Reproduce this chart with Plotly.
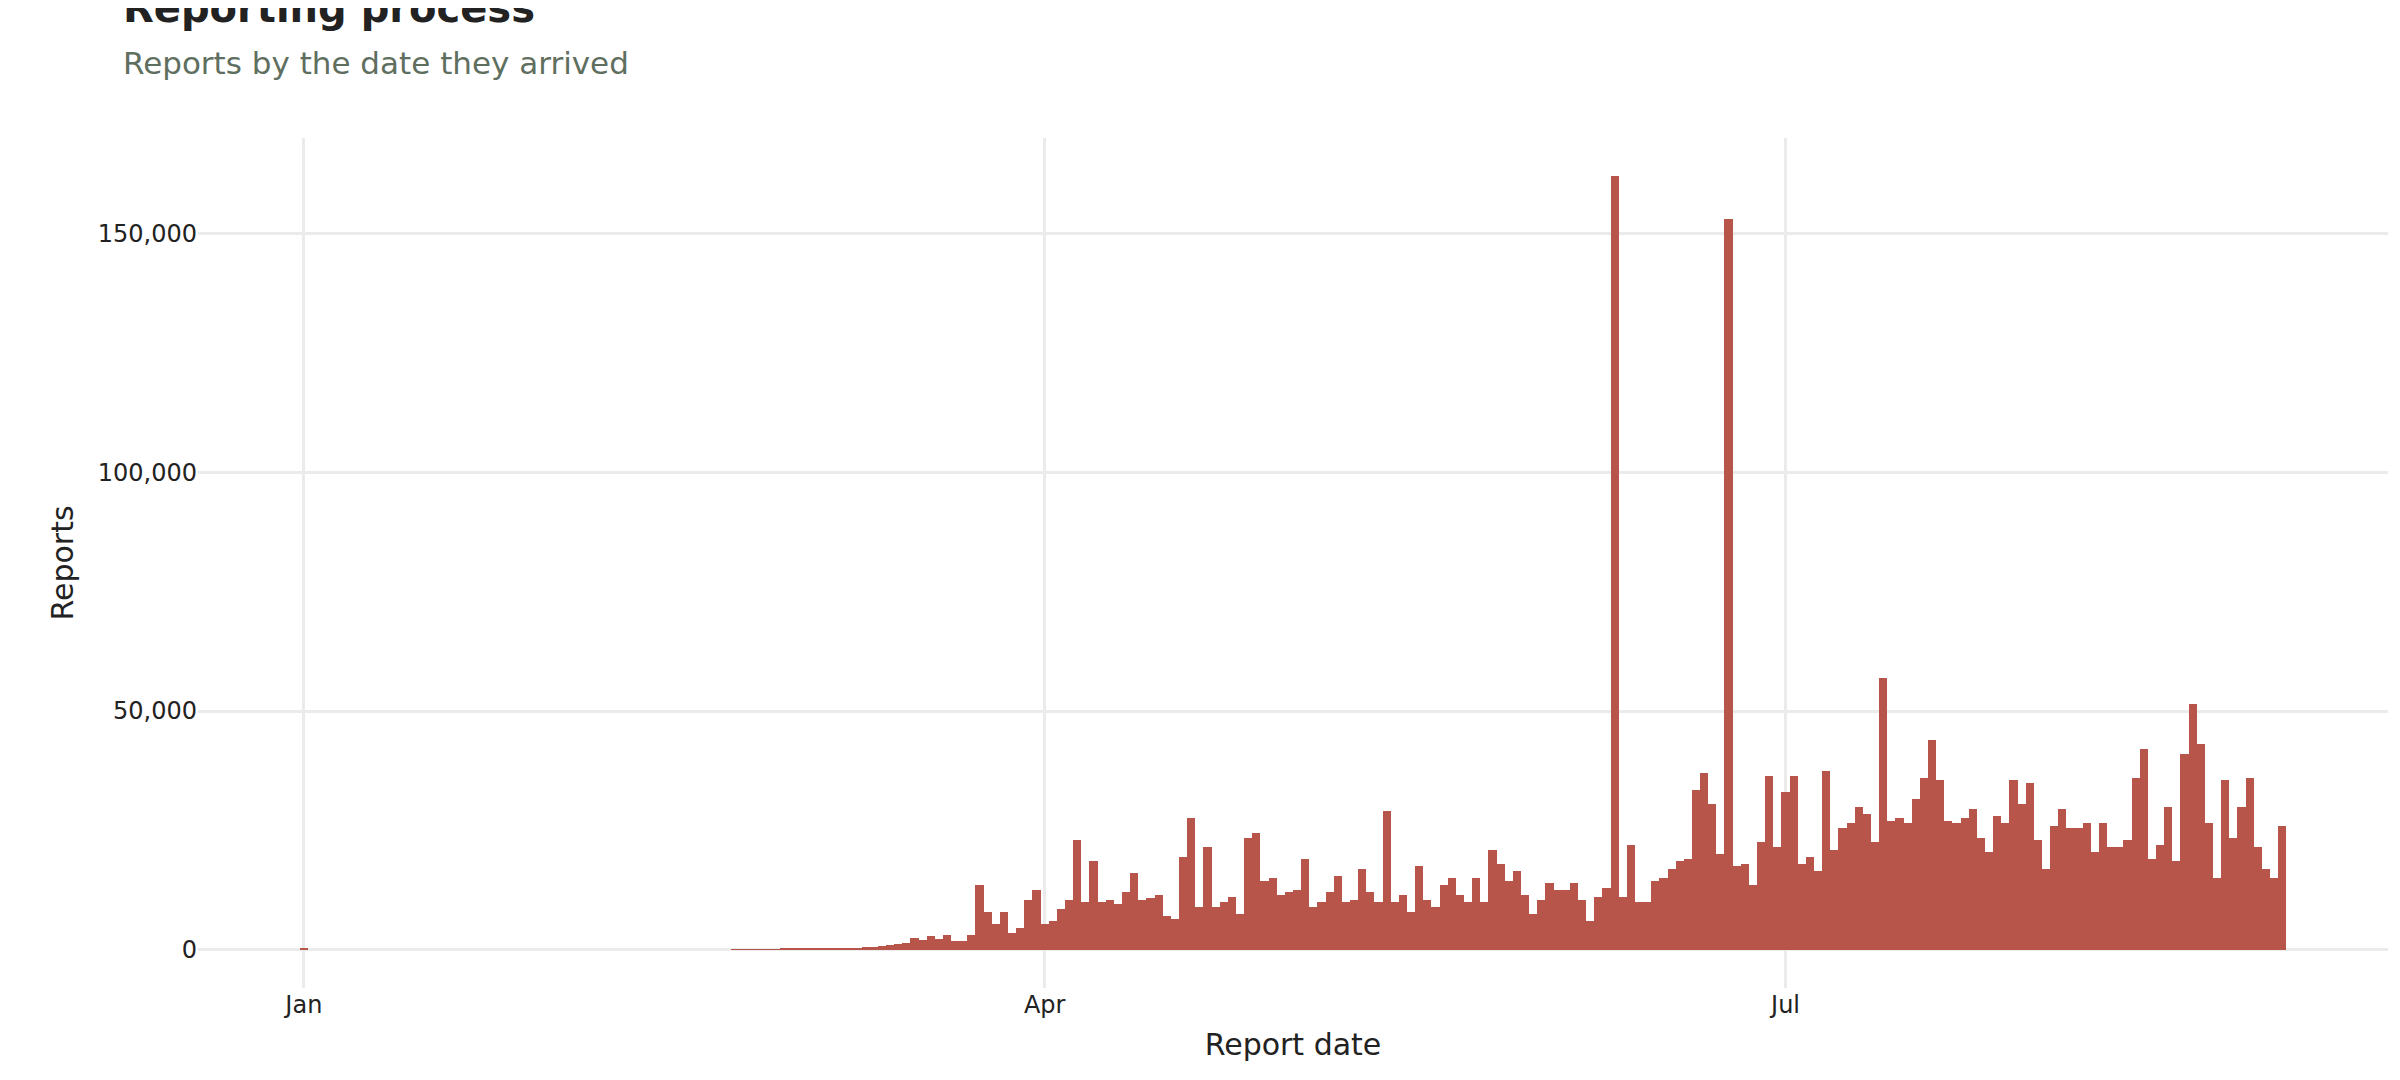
import pandas as pd
import plotly.graph_objects as go

# Daily report counts
jan_date = ["2020-01-01"]
jan_reports = [300]

early_start = "2020-02-23"
early_reports = [100, 100, 100, 150, 100, 150, 200, 200, 250, 250, 300, 300, 300, 350, 400,
                 450, 500, 600, 800, 1000, 1200, 1500, 2500, 2000, 2800, 2300, 3200, 1800, 1800, 3200]

main_reports = [13500, 8000, 5500, 8000, 3500, 4500, 10500, 12500, 5500, 6000, 8500, 10500,
                23000, 10000, 18500, 10000, 10500, 9500, 12000, 16000, 10500, 10800, 11500, 7000,
                6500, 19500, 27500, 9000, 21500, 9000, 10000, 11000, 7500, 23500, 24500, 14500,
                15000, 11500, 12000, 12500, 19000, 9000, 10000, 12000, 15500, 10000, 10500, 17000,
                12000, 10000, 29000, 10000, 11500, 8000, 17500, 10500, 9000, 13500, 15000, 11500,
                10000, 15000, 10000, 21000, 18000, 14500, 16500, 11500, 7500, 10500, 14000, 12500,
                12500, 14000, 10500, 6000, 11000, 13000, 162000, 11000, 22000, 10000, 10000, 14500,
                15000, 17000, 18500, 19000, 33500, 37000, 30500, 20000, 153000, 17500, 18000, 13500,
                22500, 36500, 21500, 33000, 36500, 18000, 19500, 16500, 37500, 21000, 25500, 26500,
                30000, 28500, 22500, 57000, 27000, 27500, 26500, 31500, 36000, 44000, 35500, 27000,
                26500, 27500, 29500, 23500, 20500, 28000, 26500, 35500, 30500, 35000, 23000, 17000,
                26000, 29500, 25500, 25500, 26500, 20500, 26500, 21500, 21500, 23000, 36000, 42000,
                19000, 22000, 30000, 18500, 41000, 51500, 43000, 26500, 15000, 35500, 23500, 30000,
                36000, 21500, 17000, 15000, 26000]

early_dates = pd.date_range(early_start, periods=len(early_reports), freq="D")
main_dates = pd.date_range("2020-03-24", periods=len(main_reports), freq="D")
dates = list(pd.to_datetime(jan_date)) + list(early_dates) + list(main_dates)
reports = jan_reports + early_reports + main_reports

fig = go.Figure(go.Bar(
    x=dates, y=reports,
    marker=dict(color="#B8554A", line=dict(width=0)),
    hovertemplate="%{x|%b %d}<br>%{y:,}<extra></extra>",
))

fig.update_layout(
    width=2400, height=1080,
    paper_bgcolor="white", plot_bgcolor="white",
    font=dict(family="DejaVu Sans", color="#222222"),
    bargap=0,
    margin=dict(l=190, r=20, t=130, b=100),
    showlegend=False,
)
# title and subtitle as paper annotations
fig.add_annotation(text="<b>Reporting process</b>", xref="paper", yref="paper",
                   x=-0.035, y=1.0, yshift=105, xanchor="left", yanchor="bottom",
                   showarrow=False, font=dict(size=40, color="#222222"))
fig.add_annotation(text="Reports by the date they arrived", xref="paper", yref="paper",
                   x=-0.035, y=1.0, yshift=55, xanchor="left", yanchor="bottom",
                   showarrow=False, font=dict(size=31, color="#5f6f5f"))

fig.update_xaxes(
    title=dict(text="Report date", font=dict(size=30)),
    range=["2019-12-19", "2020-09-13"],
    tickvals=["2020-01-01", "2020-04-01", "2020-07-01"],
    ticktext=["Jan", "Apr", "Jul"],
    tickfont=dict(size=24), showgrid=True, gridcolor="#ebebeb", gridwidth=3,
    zeroline=False, showline=False,
)
fig.update_yaxes(
    title=dict(text="Reports", font=dict(size=30)),
    range=[-8000, 170000],
    tickvals=[0, 50000, 100000, 150000],
    tickformat=",", tickfont=dict(size=24),
    showgrid=True, gridcolor="#ebebeb", gridwidth=3, zeroline=False,
)

fig.write_html("out.html")
